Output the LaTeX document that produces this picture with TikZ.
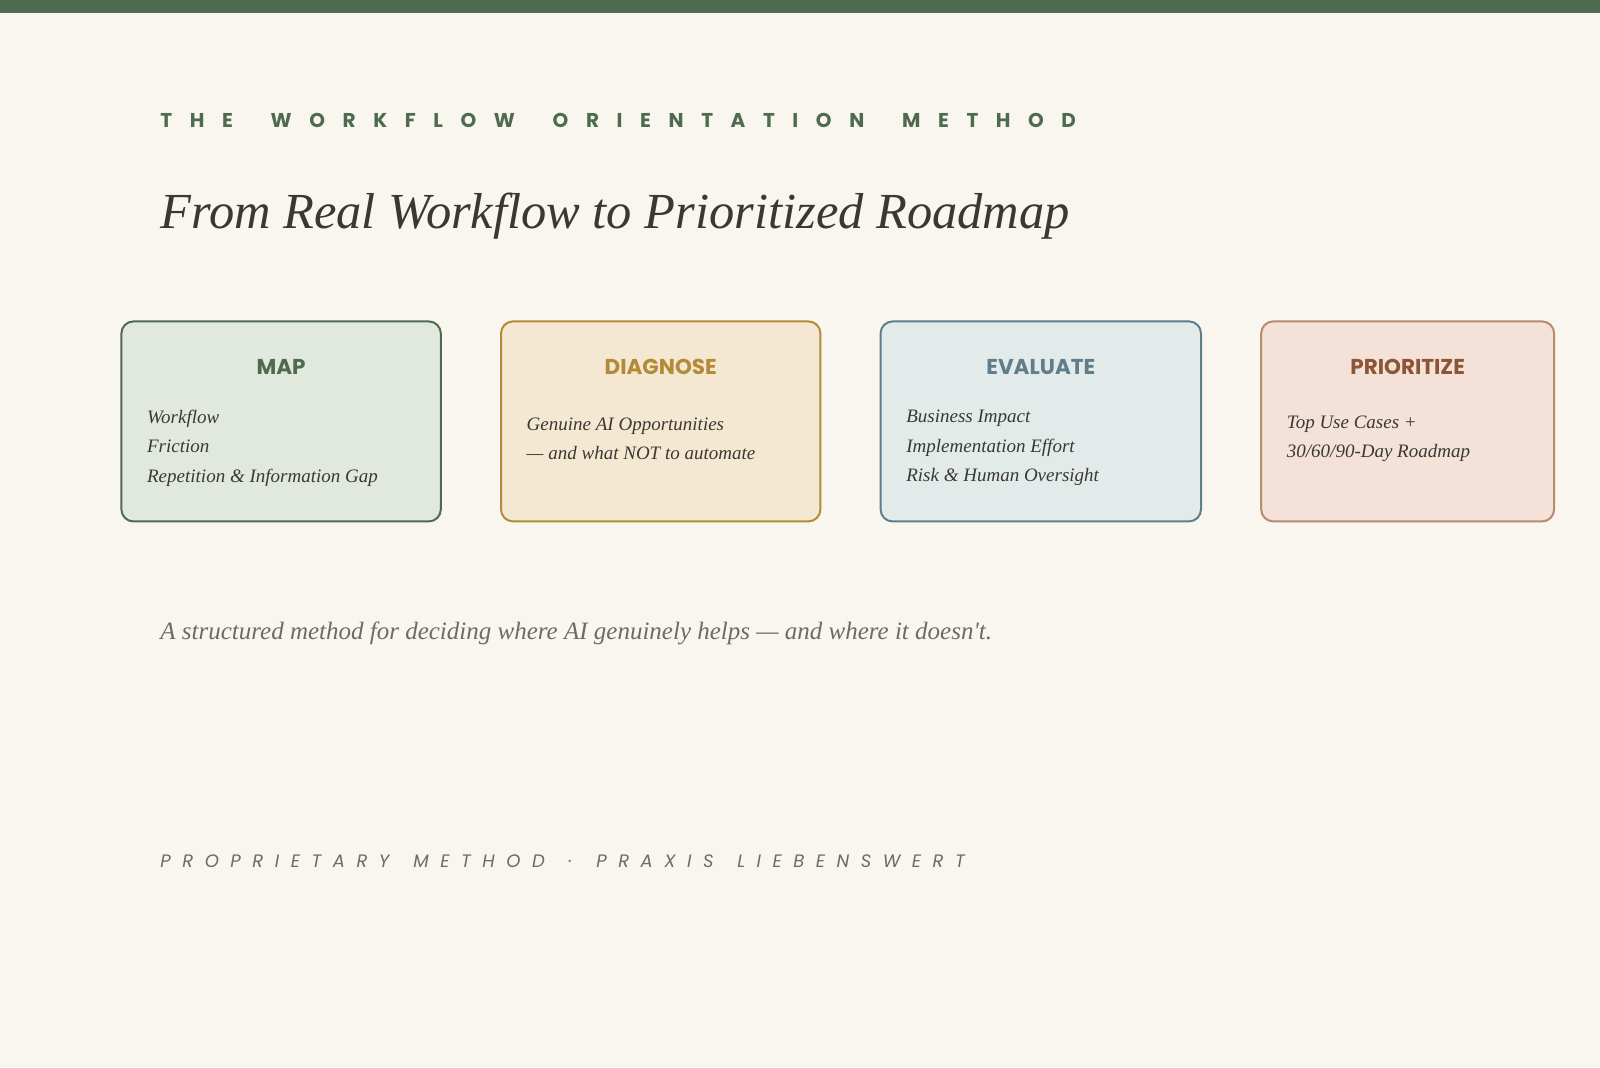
\documentclass[tikz,border=0pt]{standalone}
\usepackage{fontspec}
\setmainfont{Liberation Serif}
\newfontfamily\poppins{Poppins}
\usetikzlibrary{calc}

\definecolor{bgcol}{HTML}{F9F5EF}
\definecolor{forest}{HTML}{4E6B50}
\definecolor{inkcol}{HTML}{3A3835}
\definecolor{greycol}{HTML}{6E6A64}
\definecolor{mapfill}{HTML}{E1E8DE}
\definecolor{diagline}{HTML}{B38A35}
\definecolor{diagfill}{HTML}{F4E8D3}
\definecolor{evalline}{HTML}{5F7D8A}
\definecolor{evalfill}{HTML}{E3EAEA}
\definecolor{prioline}{HTML}{B98B6E}
\definecolor{priofill}{HTML}{F4E1D8}
\definecolor{priohead}{HTML}{8C5537}

\begin{document}
\begin{tikzpicture}[x=1.0204pt,y=-1.0204pt,
  card/.style={draw=#1, line width=2pt, rounded corners=12pt, anchor=north west,
    inner sep=0pt, minimum height=200pt},
  cardhead/.style={font=\poppins\bfseries\fontsize{21.5}{26}\selectfont, text=#1, inner sep=0pt},
  cardtext/.style={font=\itshape\fontsize{19}{29.6}\selectfont, text=inkcol, align=left,
    anchor=west, inner sep=0pt}]

    % Hintergrund und Balken oben
    \fill[bgcol] (0,0) rectangle (1568,1045.7);
    \fill[forest] (0,0) rectangle (1568,13);
    \useasboundingbox (0,0) rectangle (1568,1045.7);

    % Wortabstand fuer gesperrte Zeilen
    \def\wgap{\hspace{16pt} }
    \def\fgap{\hspace{7pt} }

    % Kopfzeilen
    \node[anchor=base west, inner sep=0pt, text=forest,
      font=\poppins\bfseries\fontsize{20}{24}\selectfont\addfontfeature{LetterSpace=88}]
      (kicker) at (157,125) {THE\wgap WORKFLOW\wgap ORIENTATION\wgap METHOD};
    \node[anchor=base west, inner sep=0pt, text=inkcol,
      font=\itshape\fontsize{50.5}{56}\selectfont]
      (title) at (157,224) {From Real Workflow to Prioritized Roadmap};

    % die vier Karten
    \node[card=forest, fill=mapfill, minimum width=319.4pt] (map) at (118,314) {};
    \node[card=diagline, fill=diagfill, minimum width=319.4pt] (diagnose) at (490,314) {};
    \node[card=evalline, fill=evalfill, minimum width=320.4pt] (evaluate) at (862,314) {};
    \node[card=prioline, fill=priofill, minimum width=292.9pt] (prioritize) at (1235,314) {};

    % Kartentitel
    \node[cardhead=forest] (maphead) at ($(map.north)+(0,46)$) {MAP};
    \node[cardhead=diagline] (diagnosehead) at ($(diagnose.north)+(0,46)$) {DIAGNOSE};
    \node[cardhead=evalline] (evaluatehead) at ($(evaluate.north)+(0,46)$) {EVALUATE};
    \node[cardhead=priohead] (prioritizehead) at ($(prioritize.north)+(0,46)$) {PRIORITIZE};

    % Kartentexte
    \node[cardtext] (maptext) at ($(map.north west)+(26,125)$)
      {Workflow\\Friction\\Repetition \& Information Gap};
    \node[cardtext] (diagnosetext) at ($(diagnose.north west)+(26,116)$)
      {Genuine AI Opportunities\\--- and what NOT to automate};
    \node[cardtext] (evaluatetext) at ($(evaluate.north west)+(26,125)$)
      {Business Impact\\Implementation Effort\\Risk \& Human Oversight};
    \node[cardtext] (prioritizetext) at ($(prioritize.north west)+(26,116)$)
      {Top Use Cases +\\30/60/90-Day Roadmap};

    % Fusszeilen
    \node[anchor=base west, inner sep=0pt, text=greycol,
      font=\itshape\fontsize{25}{29}\selectfont]
      (tagline) at (157,627) {A structured method for deciding where AI genuinely helps --- and where it doesn\textquotesingle t.};
    \node[anchor=base west, inner sep=0pt, text=greycol,
      font=\poppins\itshape\fontsize{18}{22}\selectfont\addfontfeature{LetterSpace=64}]
      (footer) at (157,850) {PROPRIETARY\fgap METHOD\fgap ·\fgap PRAXIS\fgap LIEBENSWERT};

\end{tikzpicture}
\end{document}
